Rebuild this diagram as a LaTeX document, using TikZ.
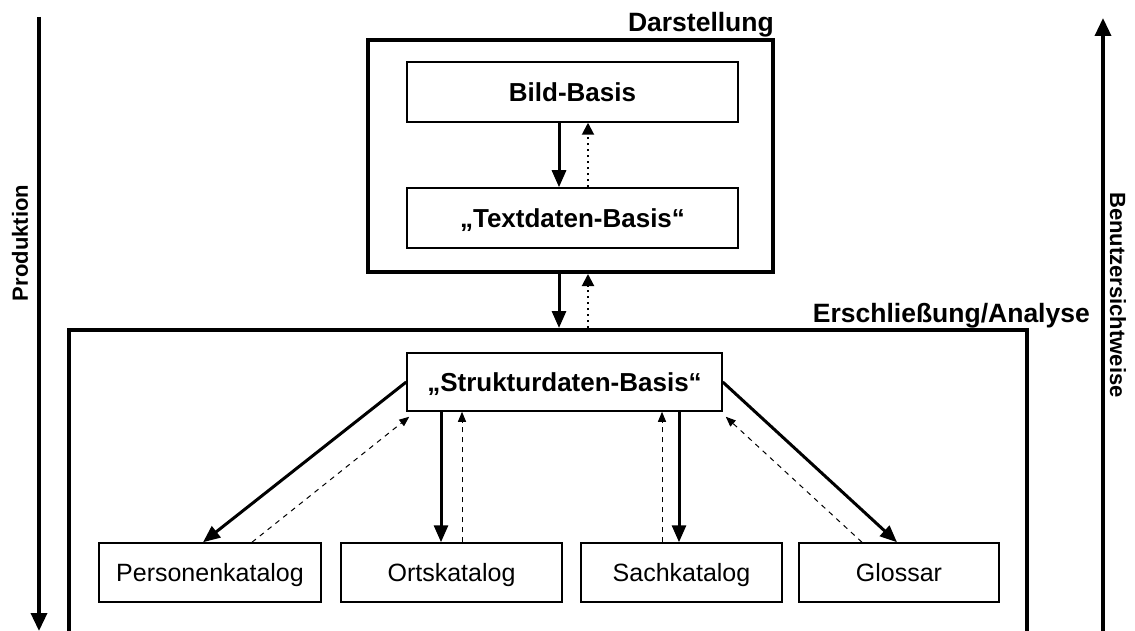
\documentclass[tikz,border=0pt]{standalone}
\usepackage{fontspec}
\setmainfont{Liberation Sans}
\usetikzlibrary{arrows.meta}
\tikzset{
  bigbox/.style={draw, line width=4pt, rectangle, inner sep=0pt},
  inbox/.style={draw, line width=1.5pt, rectangle, inner sep=0pt, minimum height=60pt, text height=20pt, text depth=1pt, font=\fontsize{26}{30}\selectfont\bfseries},
  catbox/.style={draw, line width=1.5pt, rectangle, inner sep=0pt, minimum height=59pt, text height=18pt, text depth=0pt, font=\fontsize{25}{29}\selectfont},
  solidarr/.style={line width=3pt, -{Triangle[length=17pt,width=14pt]}},
  dotarr/.style={line width=2pt, dash pattern=on 2pt off 4pt, -{Triangle[length=12pt,width=12pt]}},
  dasharr/.style={line width=1pt, dash pattern=on 5pt off 5pt, -{Triangle[length=10pt,width=8pt]}},
  axisarr/.style={line width=3.5pt, -{Triangle[length=18pt,width=16pt]}},
  lbl/.style={font=\fontsize{26.5}{30}\selectfont\bfseries, inner sep=0pt},
  vlbl/.style={font=\fontsize{22}{26}\selectfont\bfseries, inner sep=0pt}
}
\begin{document}
\begin{tikzpicture}[x=1pt,y=-1pt]
\useasboundingbox (0,0) rectangle (1135,631);
% big boxes
\node[bigbox, minimum width=405pt, minimum height=232pt] (dar) at (570.5,156) {};
\node[bigbox, minimum width=958pt, minimum height=310pt] (ers) at (548,485) {};
% inner boxes
\node[inbox, minimum width=331pt] (bild) at (572.5,92) {Bild-Basis};
\node[inbox, minimum width=331pt] (text) at (572.5,218) {„Textdaten-Basis“};
\node[inbox, minimum width=315pt, minimum height=58pt] (struk) at (564.5,382) {„Strukturdaten-Basis“};
\node[catbox, minimum width=222pt] (pers) at (210,572.5) {Personenkatalog};
\node[catbox, minimum width=221pt] (orts) at (451.5,572.5) {Ortskatalog};
\node[catbox, minimum width=201pt] (sach) at (681.5,572.5) {Sachkatalog};
\node[catbox, minimum width=200pt] (glos) at (899,572.5) {Glossar};
% labels
\node[lbl, anchor=base east] (ldar) at (774,32) {Darstellung};
\node[lbl, anchor=base east] (lers) at (1090,322) {Erschließung/Analyse};
\node[vlbl, rotate=90] (lprod) at (20,243) {Produktion};
\node[vlbl, rotate=-90] (lben) at (1118,295) {Benutzersichtweise};
% axes
\coordinate (pt) at (39,17);
\coordinate (pb) at (39,631);
\coordinate (bb) at (1103,631);
\coordinate (bt) at (1103,18);
\draw[axisarr] (pt) -- (pb);
\draw[axisarr] (bb) -- (bt);
% upper arrows
\draw[solidarr] ([xshift=-13.5pt]bild.south) -- ([xshift=-13.5pt]text.north);
\draw[dotarr] ([xshift=15.5pt]text.north) -- ([xshift=15.5pt]bild.south);
\draw[solidarr] ([xshift=-11.5pt]dar.south) -- ([xshift=-11.5pt]dar.south |- ers.north);
\draw[dotarr] ([xshift=17.5pt]dar.south |- ers.north) -- ([xshift=17.5pt]dar.south);
% lower arrows
\draw[solidarr] (struk.west) -- ([xshift=-7pt]pers.north);
\draw[dasharr] ([xshift=42pt]pers.north) -- ([xshift=3pt,yshift=-5pt]struk.south west);
\draw[solidarr] ([xshift=-10.5pt]orts.north |- struk.south) -- ([xshift=-10.5pt]orts.north);
\draw[dasharr] ([xshift=10.5pt]orts.north) -- ([xshift=10.5pt]orts.north |- struk.south);
\draw[dasharr] ([xshift=-19.5pt]sach.north) -- ([xshift=-19.5pt]sach.north |- struk.south);
\draw[solidarr] ([xshift=-2.5pt]sach.north |- struk.south) -- ([xshift=-2.5pt]sach.north);
\draw[solidarr] (struk.east) -- ([xshift=-2pt]glos.north);
\draw[dasharr] ([xshift=-37pt]glos.north) -- ([xshift=3pt,yshift=-5pt]struk.south east);
\end{tikzpicture}
\end{document}
